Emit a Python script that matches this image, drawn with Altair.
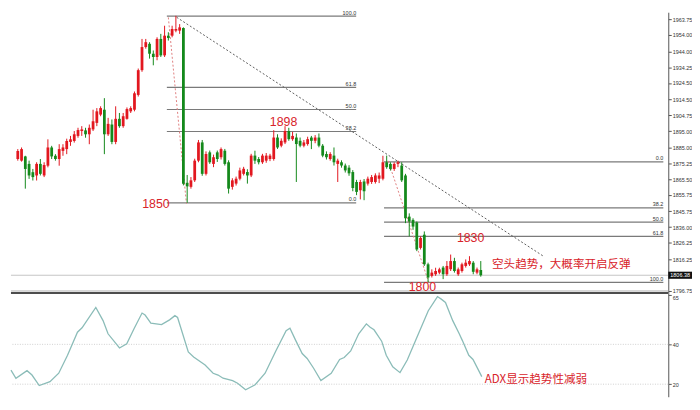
import altair as alt
import pandas as pd

RED = "#e2171f"
GREEN = "#14891b"
TXT_RED = "#d8232a"

opens = [
    1877.8, 1876.8, 1879.4, 1874.8, 1869.7, 1867.7, 1874.8, 1867.7, 1873.7, 1884.9,
    1879.8, 1877.8, 1882.8, 1883.9, 1888.3, 1888.9, 1892.0, 1895.0, 1895.4, 1893.0,
    1896.0, 1900.0, 1905.1, 1908.1, 1893.0, 1899.0, 1888.3, 1902.5, 1898.0, 1902.5,
    1907.1, 1908.1, 1917.2, 1932.4, 1946.6, 1948.6, 1942.5, 1940.5, 1951.6, 1941.5,
    1953.6, 1953.6, 1956.7, 1956.7, 1958.3, 1863.2, 1860.7, 1864.7, 1876.8, 1888.0,
    1868.7, 1881.9, 1874.8, 1881.9, 1878.9, 1882.9, 1875.8, 1860.7, 1862.7, 1865.7,
    1868.7, 1869.8, 1867.7, 1879.9, 1877.8, 1875.8, 1876.8, 1877.8, 1877.8, 1891.0,
    1886.0, 1888.0, 1895.0, 1890.0, 1891.0, 1889.0, 1886.0, 1887.0, 1891.0, 1889.0,
    1891.0, 1886.0, 1880.9, 1877.8, 1879.9, 1874.8, 1875.8, 1873.8, 1872.5, 1869.8,
    1863.7, 1858.6, 1864.0, 1862.7, 1863.7, 1863.7, 1865.7, 1865.7, 1875.8, 1874.8,
    1871.7, 1874.8, 1873.8, 1867.7, 1842.4, 1840.4, 1838.8, 1823.2, 1831.3, 1813.1,
    1806.0, 1807.0, 1808.0, 1811.1, 1807.0, 1810.1, 1815.1, 1807.0, 1809.0, 1812.1,
    1813.1, 1814.1, 1808.0, 1809.6,
]
highs = [
    1883.9, 1884.9, 1879.8, 1876.8, 1871.7, 1875.8, 1877.8, 1875.8, 1889.9, 1885.9,
    1880.8, 1886.9, 1886.9, 1890.3, 1892.0, 1895.0, 1897.0, 1898.0, 1897.0, 1899.0,
    1908.1, 1909.1, 1910.2, 1915.2, 1903.1, 1902.1, 1910.2, 1906.1, 1906.1, 1909.5,
    1910.2, 1919.3, 1933.4, 1951.6, 1951.6, 1949.6, 1944.5, 1952.6, 1954.7, 1959.7,
    1955.7, 1959.7, 1965.8, 1960.7, 1958.7, 1868.0, 1866.7, 1878.0, 1889.5, 1889.5,
    1882.5, 1883.0, 1880.5, 1883.0, 1884.9, 1884.0, 1877.0, 1866.0, 1867.0, 1872.5,
    1873.0, 1871.5, 1881.0, 1882.9, 1879.0, 1881.0, 1881.5, 1881.0, 1895.5, 1893.0,
    1890.5, 1898.0, 1897.0, 1894.5, 1893.5, 1891.0, 1889.5, 1891.5, 1892.0, 1892.5,
    1893.5, 1887.0, 1882.5, 1882.0, 1884.9, 1878.0, 1877.0, 1875.0, 1874.0, 1871.0,
    1865.0, 1865.0, 1865.5, 1867.0, 1868.0, 1869.0, 1869.5, 1879.8, 1879.9, 1875.8,
    1875.8, 1876.8, 1875.8, 1868.7, 1844.4, 1841.4, 1839.4, 1830.3, 1833.3, 1814.1,
    1810.0, 1811.0, 1811.0, 1812.1, 1815.1, 1819.1, 1817.1, 1811.1, 1814.1, 1816.1,
    1818.1, 1815.1, 1811.1, 1815.1,
]
lows = [
    1876.8, 1876.2, 1859.6, 1865.6, 1864.6, 1864.6, 1867.7, 1866.7, 1872.7, 1877.8,
    1876.8, 1873.7, 1879.8, 1880.8, 1885.9, 1887.9, 1890.9, 1892.0, 1890.9, 1886.9,
    1895.0, 1898.0, 1904.1, 1880.8, 1892.0, 1886.9, 1886.9, 1897.0, 1897.0, 1902.0,
    1906.1, 1907.1, 1916.2, 1931.4, 1945.6, 1939.5, 1935.4, 1938.5, 1940.5, 1940.5,
    1950.6, 1952.6, 1955.7, 1954.7, 1861.6, 1850.9, 1859.6, 1863.7, 1875.8, 1867.5,
    1867.7, 1874.8, 1872.8, 1876.0, 1877.5, 1873.8, 1856.6, 1859.0, 1861.5, 1864.7,
    1867.7, 1862.7, 1866.7, 1874.8, 1874.5, 1874.8, 1875.5, 1876.5, 1876.8, 1884.0,
    1885.0, 1887.0, 1889.0, 1889.0, 1863.7, 1885.0, 1885.0, 1886.0, 1883.9, 1887.5,
    1885.0, 1878.9, 1877.5, 1876.8, 1873.8, 1863.7, 1872.5, 1869.5, 1867.5, 1858.0,
    1855.6, 1853.0, 1852.5, 1861.5, 1862.5, 1862.7, 1863.0, 1864.7, 1871.8, 1870.7,
    1870.5, 1872.8, 1863.7, 1838.4, 1830.3, 1834.3, 1821.2, 1822.2, 1812.1, 1802.0,
    1805.0, 1806.0, 1807.0, 1804.0, 1806.0, 1809.0, 1808.0, 1806.0, 1808.0, 1811.1,
    1812.1, 1807.0, 1807.0, 1805.5,
]
closes = [
    1882.8, 1883.9, 1871.7, 1867.7, 1866.7, 1874.8, 1868.7, 1874.1, 1884.9, 1879.4,
    1877.8, 1883.9, 1884.9, 1888.9, 1889.9, 1893.0, 1895.6, 1896.0, 1893.0, 1897.0,
    1901.0, 1907.1, 1909.1, 1893.0, 1899.4, 1888.3, 1902.5, 1898.0, 1904.1, 1908.5,
    1909.1, 1918.2, 1932.4, 1946.6, 1949.6, 1942.5, 1940.5, 1951.6, 1941.5, 1953.6,
    1952.2, 1957.7, 1957.7, 1958.7, 1862.6, 1861.0, 1864.7, 1876.8, 1888.0, 1868.7,
    1880.9, 1875.8, 1878.9, 1877.8, 1883.9, 1874.8, 1859.6, 1864.7, 1865.7, 1870.8,
    1871.8, 1867.7, 1879.9, 1876.8, 1875.8, 1879.9, 1879.9, 1879.9, 1891.0, 1884.9,
    1889.0, 1895.0, 1890.0, 1892.0, 1887.0, 1886.0, 1888.0, 1890.0, 1889.0, 1891.0,
    1886.0, 1879.9, 1878.9, 1880.9, 1875.8, 1876.8, 1873.8, 1870.8, 1869.0, 1860.0,
    1857.6, 1863.7, 1858.0, 1865.7, 1866.7, 1867.7, 1867.7, 1875.8, 1872.8, 1871.7,
    1874.8, 1875.8, 1864.7, 1841.4, 1839.4, 1836.3, 1822.2, 1829.3, 1813.1, 1805.0,
    1808.0, 1809.0, 1810.0, 1807.0, 1812.1, 1815.1, 1809.0, 1810.0, 1813.1, 1814.1,
    1815.1, 1808.5, 1810.0, 1806.38,
]

# ADX line vertices (x in candle index units)
adx_x = [-0.5, 0.8, 3.7, 5.0, 6.9, 9.7, 12.0, 14.3, 16.9, 18.1,
         21.7, 23.6, 24.9, 27.9, 29.8, 31.7, 33.8, 34.6, 36.1, 38.9,
         41.0, 42.4, 43.1, 45.9, 47.3, 50.3, 52.4, 53.7, 55.0, 57.5,
         58.8, 60.9, 63.4, 66.0, 68.9, 71.5, 72.5, 74.0, 75.7, 77.0,
         78.7, 80.6, 83.3, 85.5, 86.7, 88.4, 90.5, 92.5, 93.5, 94.5,
         96.5, 97.7, 99.4, 101.3, 103.2, 105.4, 108.7, 111.1, 112.1, 113.2,
         115.1, 116.8, 117.6, 119.3, 120.4, 122.7]
adx_v = [27.1, 23.0, 26.8, 24.6, 19.3, 21.3, 25.5, 34.5, 46.1, 48.3,
         58.5, 51.9, 45.3, 38.2, 40.3, 47.8, 55.7, 54.7, 50.6, 49.9,
         52.3, 54.4, 53.5, 36.2, 33.7, 29.6, 25.5, 24.6, 23.0, 21.8,
         20.5, 17.2, 19.7, 25.5, 37.0, 46.9, 48.1, 42.0, 35.4, 32.9,
         28.0, 21.8, 25.5, 32.4, 33.4, 36.7, 45.3, 50.3, 48.6, 47.3,
         41.6, 34.5, 28.7, 25.8, 32.1, 42.0, 56.9, 64.0, 62.7, 61.0,
         51.9, 45.3, 42.0, 34.5, 32.4, 23.8]

price_ticks = [1963.75, 1954.00, 1944.00, 1934.25, 1924.50, 1914.50, 1904.75,
               1895.00, 1885.00, 1875.25, 1865.50, 1855.75, 1845.75, 1836.00,
               1826.25, 1816.25, 1796.75]
adx_ticks = [65, 40, 20]

fib_ratios = [1.0, 0.618, 0.5, 0.382, 0.0]
fib_labels = ["100.0", "61.8", "50.0", "38.2", "0.0"]
fib1_low, fib1_high, fib1_from, fib1_to = 1850.9, 1965.6, 39.6, 89.9
fib2_high, fib2_low, fib2_from, fib2_to = 1876.0, 1802.0, 97.3, 171.5

# dotted lines: two fib anchors (pink) and the falling trend line (grey)
anchor_id = ["a", "a", "c", "c"]
anchor_x = [40.0, 44.8, 98.4, 109.2]
anchor_y = [1964.8, 1850.4, 1876.7, 1801.8]
trend_x = [42.2, 139.7]
trend_y = [1964.9, 1818.0]

num_text = ["1850", "1898", "1830", "1800"]
num_x = [36.7, 70.6, 120.3, 107.5]
num_y = [1849.9, 1900.6, 1829.5, 1799.2]
note_text = ["空头趋势，大概率开启反弹"]
note_x = [126.0]
note_y = [1813.2]
adx_note = ["ADX显示趋势性减弱"]
adx_note_x = [123.5]
adx_note_y = [22.6]

W, H1, H2 = 665, 284, 105

cdf = pd.DataFrame({"i": list(range(len(opens))), "o": opens, "h": highs,
                    "l": lows, "c": closes})
cdf["dir"] = ["up" if c >= o else "down" for o, c in zip(opens, closes)]

fib_rows = []
for r, lab in zip(fib_ratios, fib_labels):
    fib_rows.append({"x0": fib1_from, "x1": fib1_to,
                     "y": fib1_low + r * (fib1_high - fib1_low), "label": lab})
for r, lab in zip(fib_ratios[::-1], fib_labels[::-1]):
    fib_rows.append({"x0": fib2_from, "x1": fib2_to,
                     "y": fib2_high - r * (fib2_high - fib2_low), "label": lab})
fdf = pd.DataFrame(fib_rows)

x_scale = alt.Scale(domain=[-0.5, 171.5], nice=False, zero=False)
p_scale = alt.Scale(domain=[1795.5, 1968.0], nice=False, zero=False)
a_scale = alt.Scale(domain=[13.7, 65.8], nice=False, zero=False)

axis_common = dict(orient="right", grid=False, title=None, labelFontSize=5.5,
                   labelFont="Liberation Sans", labelColor="#333333",
                   tickSize=3, tickColor="#555555", domainColor="#555555",
                   labelPadding=1, labelOverlap=False, labelFlush=False)
p_axis = alt.Axis(values=price_ticks, format=".2f", **axis_common)
a_axis = alt.Axis(values=adx_ticks, format="d",
                  labelOffset={"condition": {"test": "datum.value >= 65", "value": 3.5},
                               "value": 0},
                  **axis_common)


def X(f):
    return alt.X(f, type="quantitative", scale=x_scale, axis=None)


def Y(f):
    return alt.Y(f, type="quantitative", scale=p_scale, axis=p_axis)


def YA(f):
    return alt.Y(f, type="quantitative", scale=a_scale, axis=a_axis)


color = alt.Color("dir:N", scale=alt.Scale(domain=["up", "down"], range=[RED, GREEN]),
                  legend=None)

last = closes[-1]
last_df = pd.DataFrame({"y": [last], "t": [f"{last:.2f}"]})

cur_line = alt.Chart(last_df).mark_rule(color="#c4c4c4", strokeWidth=1).encode(y=Y("y"))
bottom_line = alt.Chart(pd.DataFrame({"a": [0]})).mark_rule(
    color="#b0b0b0", strokeWidth=1).encode(x=alt.value(0), x2=alt.value(W), y=alt.value(H1 - 2))
fib_rules = alt.Chart(fdf).mark_rule(color="#7a7a7a", strokeWidth=1.2).encode(
    x=X("x0"), x2=alt.X2("x1"), y=Y("y"))
fib_text = alt.Chart(fdf).mark_text(align="right", baseline="bottom", dy=-0.5,
                                    fontSize=5.5, font="Liberation Sans",
                                    color="#333333").encode(
    x=X("x1"), y=Y("y"), text="label:N")

adf_anchor = pd.DataFrame({"id": anchor_id, "x": anchor_x, "y": anchor_y})
anchors = alt.Chart(adf_anchor).mark_line(strokeWidth=1, strokeDash=[2, 2],
                                          color="#e07f7f").encode(
    x=X("x"), y=Y("y"), detail="id:N")
tdf_trend = pd.DataFrame({"x": trend_x, "y": trend_y})
trend = alt.Chart(tdf_trend).mark_line(strokeWidth=1, strokeDash=[2, 2],
                                       color="#5e5e5e").encode(x=X("x"), y=Y("y"))

wicks = alt.Chart(cdf).mark_rule(strokeWidth=1).encode(
    x=X("i"), y=Y("l"), y2=alt.Y2("h"), color=color)
bodies = alt.Chart(cdf).mark_bar(width=2.8).encode(
    x=X("i"), y=Y("o"), y2=alt.Y2("c"), color=color)

ndf = pd.DataFrame({"t": num_text, "x": num_x, "y": num_y})
nums = alt.Chart(ndf).mark_text(align="center", baseline="middle", fontSize=12.5,
                                font="Liberation Sans", color=TXT_RED).encode(
    x=X("x"), y=Y("y"), text="t:N")
tdf = pd.DataFrame({"t": note_text, "x": note_x, "y": note_y})
note = alt.Chart(tdf).mark_text(align="left", baseline="middle", fontSize=11.7,
                                font="Noto Sans CJK SC", color=TXT_RED).encode(
    x=X("x"), y=Y("y"), text="t:N")

box = alt.Chart(last_df).mark_point(shape="M-3,-0.9H3V0.9H-3Z", size=64, filled=True,
                                    color="#111111", opacity=1).encode(
    x=alt.value(W + 12), y=Y("y"))
box_text = alt.Chart(last_df).mark_text(align="center", baseline="middle", fontSize=5.5,
                                        font="Liberation Sans", color="white").encode(
    x=alt.value(W + 12), y=Y("y"), text="t:N")

price = alt.layer(cur_line, bottom_line, fib_rules, fib_text, anchors, trend, wicks,
                  bodies, nums, note, box, box_text).properties(width=W, height=H1)

adf = pd.DataFrame({"x": adx_x, "v": adx_v})
gdf = pd.DataFrame({"g": [40, 20]})
grid = alt.Chart(gdf).mark_rule(color="#cfcfcf", strokeDash=[1, 1.5]).encode(y=YA("g"))
adx_line = alt.Chart(adf).mark_line(color="#8bbcb8", strokeWidth=1.3).encode(
    x=X("x"), y=YA("v"))
sep = alt.Chart(pd.DataFrame({"a": [0]})).mark_rule(color="#4d4d4d", strokeWidth=2).encode(
    x=alt.value(0), x2=alt.value(W), y=alt.value(0))
an_df = pd.DataFrame({"t": adx_note, "x": adx_note_x, "y": adx_note_y})
adx_text = alt.Chart(an_df).mark_text(align="left", baseline="middle", fontSize=11.7,
                                      font="Noto Sans CJK SC", color=TXT_RED).encode(
    x=X("x"), y=YA("y"), text="t:N")

adx = alt.layer(grid, adx_line, sep, adx_text).properties(width=W, height=H2)

chart = alt.vconcat(price, adx, spacing=0, bounds="flush").properties(
    padding=0, background="white").configure_view(stroke=None)

chart.save("out.html", embed_options={"renderer": "svg", "actions": False})
